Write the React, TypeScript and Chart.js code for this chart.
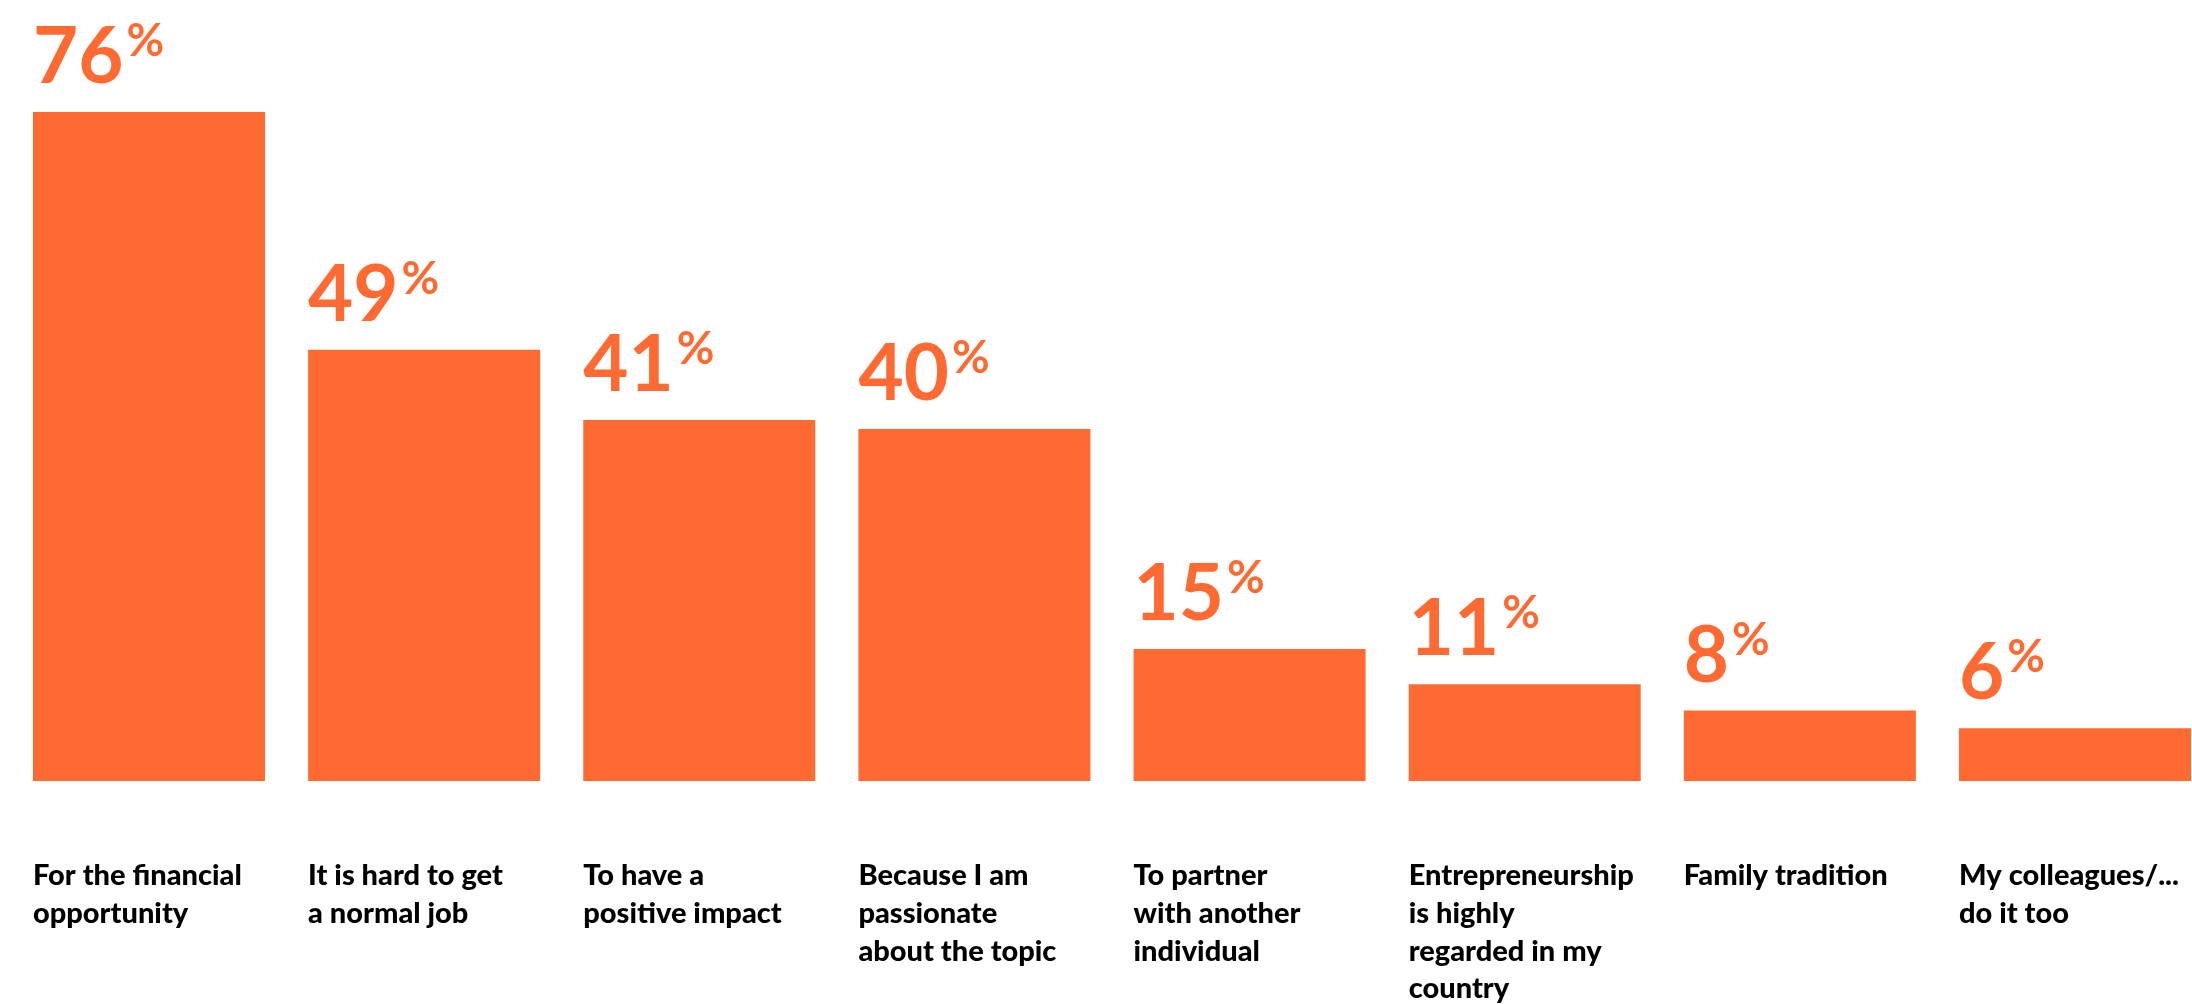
import React, { useEffect, useRef } from "react";
import { Chart, registerables } from "chart.js";

Chart.register(...registerables);

const categories: string[][] = [
  ["For the financial", "opportunity"],
  ["It is hard to get", "a normal job"],
  ["To have a", "positive impact"],
  ["Because I am", "passionate", "about the topic"],
  ["To partner", "with another", "individual"],
  ["Entrepreneurship", "is highly", "regarded in my", "country"],
  ["Family tradition"],
  ["My colleagues/...", "do it too"],
];
const values: number[] = [76, 49, 41, 40, 15, 11, 8, 6];
const valueSuffix = "%";

const ORANGE = "#FF6A33";
const FONT = "Lato, 'Noto Sans', sans-serif";

const labelPlugin = {
  id: "customLabels",
  afterDatasetsDraw(chart: any) {
    const ctx = chart.ctx as CanvasRenderingContext2D;
    const meta = chart.getDatasetMeta(0);
    const area = chart.chartArea;
    ctx.save();
    meta.data.forEach((el: any, i: number) => {
      const left = el.x - el.width / 2;
      const top = el.y;
      // value label
      const v = String(chart.data.datasets[0].data[i]);
      ctx.fillStyle = ORANGE;
      ctx.textAlign = "left";
      ctx.textBaseline = "alphabetic";
      ctx.font = `700 78px ${FONT}`;
      const base = top - 29;
      ctx.fillText(v, left, base);
      const w = ctx.measureText(v).width;
      ctx.font = `700 46px ${FONT}`;
      ctx.fillText(valueSuffix, left + w + 3, base - 27);
      // category label
      const lines: string[] = chart.data.labels[i];
      ctx.fillStyle = "#000000";
      ctx.font = `900 29px ${FONT}`;
      lines.forEach((ln, j) => {
        ctx.fillText(ln, left, area.bottom + 104 + j * 37.8);
      });
    });
    ctx.restore();
  },
};

export default function App() {
  const ref = useRef<HTMLCanvasElement | null>(null);
  useEffect(() => {
    if (!ref.current) return;
    const chart = new Chart(ref.current, {
      type: "bar",
      data: {
        labels: categories as any,
        datasets: [
          {
            data: values,
            backgroundColor: ORANGE,
            borderWidth: 0,
            barPercentage: 0.8432,
            categoryPercentage: 1.0,
          },
        ],
      },
      options: {
        responsive: false,
        animation: false,
        devicePixelRatio: 1,
        layout: { padding: { left: 11.4, right: 27.4, top: 112, bottom: 223 } },
        plugins: { legend: { display: false }, tooltip: { enabled: false } },
        scales: {
          x: { display: false, grid: { display: false } },
          y: { display: false, min: 0, max: 76, grid: { display: false } },
        },
      },
      plugins: [labelPlugin],
    });
    return () => chart.destroy();
  }, []);
  return (
    <div
      style={{
        position: "fixed",
        left: 0,
        top: 0,
        width: 2192,
        height: 1004,
        overflow: "hidden",
        background: "#ffffff",
      }}
    >
      <canvas ref={ref} width={2240} height={1004} style={{ display: "block" }} />
    </div>
  );
}
